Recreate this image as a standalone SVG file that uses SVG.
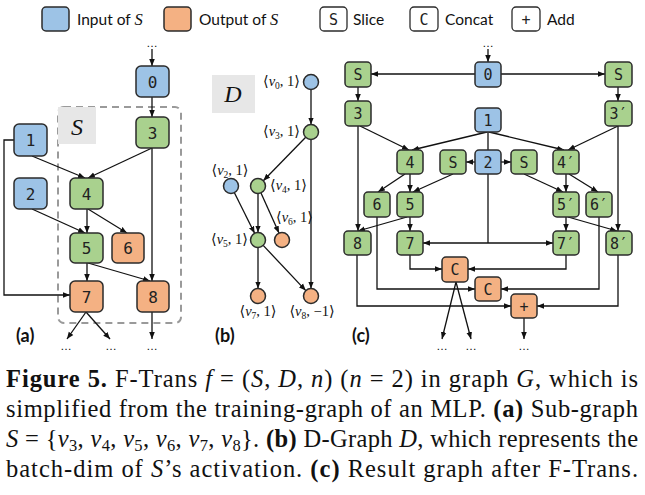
<svg xmlns="http://www.w3.org/2000/svg" width="645" height="495" viewBox="0 0 645 495">
<style>
.b{fill:#9DC3E6;stroke:#2b2b2b;stroke-width:1.5}
.g{fill:#A9D18E;stroke:#2b2b2b;stroke-width:1.5}
.o{fill:#F4B183;stroke:#2b2b2b;stroke-width:1.5}
.w{fill:#fff;stroke:#2b2b2b;stroke-width:1.3}
.t{font-family:"DejaVu Sans Mono",monospace;font-size:15px;fill:#222;text-anchor:middle}
.ta{font-family:"DejaVu Sans Mono",monospace;font-size:16px;fill:#222;text-anchor:middle}
.lg{font-family:Lato,"Liberation Sans",sans-serif;font-size:15.5px;fill:#111}
.m{font-family:"Liberation Serif",serif;font-style:italic}
.dl{font-family:"Liberation Serif","DejaVu Serif",serif;font-size:14.5px;fill:#111}
.pl{font-family:Lato,"Liberation Sans",sans-serif;font-weight:bold;font-size:18px;fill:#111}
.dots{font-family:"DejaVu Sans",sans-serif;font-size:11px;fill:#111;text-anchor:middle}
.cap{font-family:"Liberation Serif",serif;font-size:24.5px;fill:#111}
.e{fill:none;stroke:#111;stroke-width:1.3}
.ea{fill:none;stroke:#111;stroke-width:1.3;marker-end:url(#ah)}
</style>
<defs>
<marker id="ah" viewBox="0 0 10 10" refX="10" refY="5" markerWidth="7" markerHeight="7" markerUnits="userSpaceOnUse" orient="auto"><path d="M0,1 L10,5 L0,9 z" fill="#111"/></marker>
</defs>

<!-- Legend -->
<g id="legend">
<rect class="b" x="42" y="7" width="27" height="24" rx="4"/>
<text class="lg" x="77" y="25">Input of <tspan class="m" font-size="16.5">S</tspan></text>
<rect class="o" x="164" y="7" width="27" height="24" rx="4"/>
<text class="lg" x="199" y="25">Output of <tspan class="m" font-size="16.5">S</tspan></text>
<rect class="w" x="320" y="7" width="27" height="24" rx="4"/>
<text class="t" x="333.5" y="24.5">S</text>
<text class="lg" x="353" y="25">Slice</text>
<rect class="w" x="410" y="7" width="28" height="24" rx="4"/>
<text class="t" x="424" y="24.5">C</text>
<text class="lg" x="445" y="25">Concat</text>
<rect class="w" x="512" y="7" width="28" height="24" rx="4"/>
<text class="t" x="526" y="24.5">+</text>
<text class="lg" x="547" y="25">Add</text>
</g>

<!-- Panel (a) -->
<g id="a-sbox">
<rect x="58" y="107" width="123" height="216" rx="6" fill="none" stroke="#9a9a9a" stroke-width="2" stroke-dasharray="7,5"/>
<rect x="58" y="107" width="38" height="37" fill="#e7e7e7"/>
<text class="m" x="77" y="135" font-size="24" text-anchor="middle" fill="#111">S</text>
</g>
<g id="a-connectors">
<line class="ea" x1="152" y1="49" x2="152" y2="66"/>
<line class="ea" x1="152" y1="97" x2="152" y2="117"/>
<line class="ea" x1="32" y1="156" x2="85" y2="178"/>
<line class="ea" x1="152" y1="148" x2="88" y2="178"/>
<line class="ea" x1="152" y1="148" x2="152" y2="281"/>
<polyline class="ea" points="14,140 4,140 4,295 70,295"/>
<line class="ea" x1="32" y1="209" x2="85" y2="233"/>
<line class="ea" x1="87" y1="209" x2="87" y2="233"/>
<line class="ea" x1="88" y1="209" x2="127" y2="233"/>
<line class="ea" x1="87" y1="263" x2="87" y2="281"/>
<line class="ea" x1="88" y1="263" x2="150" y2="281"/>
<line class="ea" x1="86" y1="312" x2="67" y2="339"/>
<line class="ea" x1="86" y1="312" x2="110" y2="339"/>
<line class="ea" x1="152" y1="312" x2="152" y2="339"/>
</g>
<g id="a-n0"><rect class="b" x="136" y="66" width="33" height="31" rx="5"/><text class="ta" x="152.5" y="87.5">0</text></g>
<g id="a-n3"><rect class="g" x="136" y="117" width="33" height="31" rx="5"/><text class="ta" x="152.5" y="138.5">3</text></g>
<g id="a-n1"><rect class="b" x="14" y="124" width="33" height="32" rx="5"/><text class="ta" x="30.5" y="146">1</text></g>
<g id="a-n2"><rect class="b" x="14" y="178" width="33" height="31" rx="5"/><text class="ta" x="30.5" y="199.5">2</text></g>
<g id="a-n4"><rect class="g" x="70" y="178" width="33" height="31" rx="5"/><text class="ta" x="86.5" y="199.5">4</text></g>
<g id="a-n5"><rect class="g" x="70" y="233" width="33" height="30" rx="5"/><text class="ta" x="86.5" y="254">5</text></g>
<g id="a-n6"><rect class="o" x="112" y="233" width="32" height="30" rx="5"/><text class="ta" x="128" y="254">6</text></g>
<g id="a-n7"><rect class="o" x="70" y="281" width="33" height="31" rx="5"/><text class="ta" x="86.5" y="302.5">7</text></g>
<g id="a-n8"><rect class="o" x="137" y="281" width="32" height="31" rx="5"/><text class="ta" x="153" y="302.5">8</text></g>
<g id="a-dots">
<text class="dots" x="152" y="47">…</text>
<text class="dots" x="66" y="350">…</text>
<text class="dots" x="111" y="350">…</text>
<text class="dots" x="152" y="350">…</text>
</g>
<text class="pl" x="16" y="342">(a)</text>

<!-- Panel (b) -->
<g id="b-dbox">
<rect x="212" y="75" width="43" height="38" fill="#e7e7e7"/>
<text class="m" x="233" y="102" font-size="24" text-anchor="middle" fill="#111">D</text>
</g>
<g id="b-connectors">
<line class="ea" x1="311" y1="89.5" x2="311" y2="124.5"/>
<line class="ea" x1="305.7" y1="137.3" x2="263.3" y2="180.7"/>
<line class="ea" x1="311" y1="139.5" x2="311" y2="288.5"/>
<line class="ea" x1="234.4" y1="192.7" x2="254.6" y2="233.3"/>
<line class="ea" x1="258" y1="193.5" x2="258" y2="232.5"/>
<line class="ea" x1="261" y1="192.9" x2="279" y2="233.1"/>
<line class="ea" x1="258" y1="247.5" x2="258" y2="288.5"/>
<line class="ea" x1="263.2" y1="245.4" x2="305.8" y2="290.6"/>
</g>
<g id="b-v0"><circle class="b" cx="311" cy="82" r="7.5"/><text class="dl" x="300" y="86" text-anchor="end">⟨<tspan font-style="italic">v</tspan><tspan font-size="9.5" dy="2.5">0</tspan><tspan dy="-2.5">, 1⟩</tspan></text></g>
<g id="b-v3"><circle class="g" cx="311" cy="132" r="7.5"/><text class="dl" x="300" y="136" text-anchor="end">⟨<tspan font-style="italic">v</tspan><tspan font-size="9.5" dy="2.5">3</tspan><tspan dy="-2.5">, 1⟩</tspan></text></g>
<g id="b-v2"><circle class="b" cx="231" cy="186" r="7.5"/><text class="dl" x="230" y="175" text-anchor="middle">⟨<tspan font-style="italic">v</tspan><tspan font-size="9.5" dy="2.5">2</tspan><tspan dy="-2.5">, 1⟩</tspan></text></g>
<g id="b-v4"><circle class="g" cx="258" cy="186" r="7.5"/><text class="dl" x="270" y="190">⟨<tspan font-style="italic">v</tspan><tspan font-size="9.5" dy="2.5">4</tspan><tspan dy="-2.5">, 1⟩</tspan></text></g>
<g id="b-v6"><circle class="o" cx="282" cy="240" r="7.5"/><text class="dl" x="276" y="222">⟨<tspan font-style="italic">v</tspan><tspan font-size="9.5" dy="2.5">6</tspan><tspan dy="-2.5">, 1⟩</tspan></text></g>
<g id="b-v5"><circle class="g" cx="258" cy="240" r="7.5"/><text class="dl" x="248" y="244" text-anchor="end">⟨<tspan font-style="italic">v</tspan><tspan font-size="9.5" dy="2.5">5</tspan><tspan dy="-2.5">, 1⟩</tspan></text></g>
<g id="b-v7"><circle class="o" cx="258" cy="296" r="7.5"/><text class="dl" x="258" y="316" text-anchor="middle">⟨<tspan font-style="italic">v</tspan><tspan font-size="9.5" dy="2.5">7</tspan><tspan dy="-2.5">, 1⟩</tspan></text></g>
<g id="b-v8"><circle class="o" cx="311" cy="296" r="7.5"/><text class="dl" x="312" y="316" text-anchor="middle">⟨<tspan font-style="italic">v</tspan><tspan font-size="9.5" dy="2.5">8</tspan><tspan dy="-2.5">, −1⟩</tspan></text></g>
<text class="pl" x="215" y="342">(b)</text>

<!-- Panel (c) -->
<g id="c-connectors">
<line class="ea" x1="488" y1="49" x2="488" y2="62"/>
<line class="ea" x1="475" y1="74" x2="371" y2="74"/>
<line class="ea" x1="501" y1="74" x2="605" y2="74"/>
<line class="ea" x1="358" y1="87" x2="358" y2="101"/>
<line class="ea" x1="618" y1="87" x2="618" y2="101"/>
<line class="e" x1="488" y1="132" x2="488" y2="150"/>
<line class="ea" x1="487" y1="132" x2="412" y2="150"/>
<line class="ea" x1="360" y1="126" x2="409" y2="150"/>
<line class="ea" x1="489" y1="132" x2="564" y2="150"/>
<line class="ea" x1="618" y1="126" x2="568" y2="150"/>
<line class="ea" x1="475" y1="162" x2="466" y2="162"/>
<line class="ea" x1="501" y1="162" x2="511" y2="162"/>
<line class="ea" x1="358" y1="126" x2="358" y2="231"/>
<line class="ea" x1="618" y1="126" x2="618" y2="231"/>
<line class="ea" x1="405" y1="174" x2="378" y2="192"/>
<line class="ea" x1="410" y1="174" x2="410" y2="192"/>
<line class="ea" x1="453" y1="174" x2="413" y2="192"/>
<line class="ea" x1="566" y1="174" x2="566" y2="192"/>
<line class="ea" x1="524" y1="174" x2="563" y2="192"/>
<line class="ea" x1="569" y1="174" x2="598" y2="192"/>
<line class="ea" x1="410" y1="217" x2="410" y2="231"/>
<line class="ea" x1="407" y1="217" x2="358" y2="231"/>
<line class="ea" x1="566" y1="217" x2="566" y2="231"/>
<line class="ea" x1="568" y1="217" x2="617" y2="231"/>
<line class="e" x1="488" y1="174" x2="488" y2="243"/>
<line class="ea" x1="488" y1="243" x2="423" y2="243"/>
<line class="ea" x1="488" y1="243" x2="553" y2="243"/>
<polyline class="ea" points="410,255 410,269 442,269"/>
<polyline class="ea" points="566,255 566,269 468,269"/>
<polyline class="ea" points="377,217 377,289 475,289"/>
<polyline class="ea" points="599,217 599,289 501,289"/>
<polyline class="ea" points="357,255 357,306 511,306"/>
<polyline class="ea" points="618,255 618,306 537,306"/>
<line class="ea" x1="456" y1="282" x2="442" y2="339"/>
<line class="ea" x1="456" y1="282" x2="471" y2="339"/>
<line class="ea" x1="524" y1="318" x2="524" y2="339"/>
</g>
<g id="c-n0"><rect class="b" x="475" y="62" width="26" height="25" rx="4"/><text class="t" x="488" y="80">0</text></g>
<g id="c-sl"><rect class="g" x="345" y="62" width="26" height="25" rx="4"/><text class="t" x="358" y="80">S</text></g>
<g id="c-sr"><rect class="g" x="605" y="62" width="27" height="25" rx="4"/><text class="t" x="618.5" y="80">S</text></g>
<g id="c-n3"><rect class="g" x="345" y="101" width="26" height="25" rx="4"/><text class="t" x="358" y="119">3</text></g>
<g id="c-n3p"><rect class="g" x="605" y="101" width="27" height="25" rx="4"/><text class="t" x="618.5" y="119">3′</text></g>
<g id="c-n1"><rect class="b" x="475" y="108" width="26" height="24" rx="4"/><text class="t" x="488" y="125.5">1</text></g>
<g id="c-n4"><rect class="g" x="397" y="150" width="26" height="24" rx="4"/><text class="t" x="410" y="167.5">4</text></g>
<g id="c-sml"><rect class="g" x="440" y="150" width="26" height="24" rx="4"/><text class="t" x="453" y="167.5">S</text></g>
<g id="c-n2"><rect class="b" x="475" y="150" width="26" height="24" rx="4"/><text class="t" x="488" y="167.5">2</text></g>
<g id="c-smr"><rect class="g" x="511" y="150" width="26" height="24" rx="4"/><text class="t" x="524" y="167.5">S</text></g>
<g id="c-n4p"><rect class="g" x="553" y="150" width="26" height="24" rx="4"/><text class="t" x="566" y="167.5">4′</text></g>
<g id="c-n6"><rect class="g" x="364" y="192" width="26" height="25" rx="4"/><text class="t" x="377" y="210">6</text></g>
<g id="c-n5"><rect class="g" x="397" y="192" width="26" height="25" rx="4"/><text class="t" x="410" y="210">5</text></g>
<g id="c-n5p"><rect class="g" x="553" y="192" width="26" height="25" rx="4"/><text class="t" x="566" y="210">5′</text></g>
<g id="c-n6p"><rect class="g" x="586" y="192" width="26" height="25" rx="4"/><text class="t" x="599" y="210">6′</text></g>
<g id="c-n8"><rect class="g" x="344" y="231" width="27" height="24" rx="4"/><text class="t" x="357.5" y="248.5">8</text></g>
<g id="c-n7"><rect class="g" x="397" y="231" width="26" height="24" rx="4"/><text class="t" x="410" y="248.5">7</text></g>
<g id="c-n7p"><rect class="g" x="553" y="231" width="26" height="24" rx="4"/><text class="t" x="566" y="248.5">7′</text></g>
<g id="c-n8p"><rect class="g" x="606" y="231" width="26" height="24" rx="4"/><text class="t" x="619" y="248.5">8′</text></g>
<g id="c-c1"><rect class="o" x="442" y="257" width="26" height="25" rx="4"/><text class="t" x="455" y="275">C</text></g>
<g id="c-c2"><rect class="o" x="475" y="277" width="26" height="24" rx="4"/><text class="t" x="488" y="294.5">C</text></g>
<g id="c-add"><rect class="o" x="511" y="294" width="26" height="24" rx="4"/><text class="t" x="524" y="311.5">+</text></g>
<g id="c-dots">
<text class="dots" x="488" y="47">…</text>
<text class="dots" x="442" y="350">…</text>
<text class="dots" x="471" y="350">…</text>
<text class="dots" x="524" y="350">…</text>
</g>
<text class="pl" x="352" y="342">(c)</text>

<!-- Caption -->
<g id="caption">
<text class="cap" x="6" y="387" textLength="632" lengthAdjust="spacing"><tspan font-weight="bold">Figure 5.</tspan> F-Trans <tspan font-style="italic">f</tspan> = (<tspan font-style="italic">S</tspan>, <tspan font-style="italic">D</tspan>, <tspan font-style="italic">n</tspan>) (<tspan font-style="italic">n</tspan> = 2) in graph <tspan font-style="italic">G</tspan>, which is</text>
<text class="cap" x="6" y="417" textLength="632" lengthAdjust="spacing">simplified from the training-graph of an MLP. <tspan font-weight="bold">(a)</tspan> Sub-graph</text>
<text class="cap" x="6" y="447" textLength="632" lengthAdjust="spacing"><tspan font-style="italic">S</tspan> = {<tspan font-style="italic">v</tspan><tspan font-size="16.5" dy="4">3</tspan><tspan dy="-4">, </tspan><tspan font-style="italic">v</tspan><tspan font-size="16.5" dy="4">4</tspan><tspan dy="-4">, </tspan><tspan font-style="italic">v</tspan><tspan font-size="16.5" dy="4">5</tspan><tspan dy="-4">, </tspan><tspan font-style="italic">v</tspan><tspan font-size="16.5" dy="4">6</tspan><tspan dy="-4">, </tspan><tspan font-style="italic">v</tspan><tspan font-size="16.5" dy="4">7</tspan><tspan dy="-4">, </tspan><tspan font-style="italic">v</tspan><tspan font-size="16.5" dy="4">8</tspan><tspan dy="-4">}. </tspan><tspan font-weight="bold">(b)</tspan> D-Graph <tspan font-style="italic">D</tspan>, which represents the</text>
<text class="cap" x="6" y="477" textLength="632" lengthAdjust="spacing">batch-dim of <tspan font-style="italic">S</tspan>’s activation. <tspan font-weight="bold">(c)</tspan> Result graph after F-Trans.</text>
</g>
</svg>
